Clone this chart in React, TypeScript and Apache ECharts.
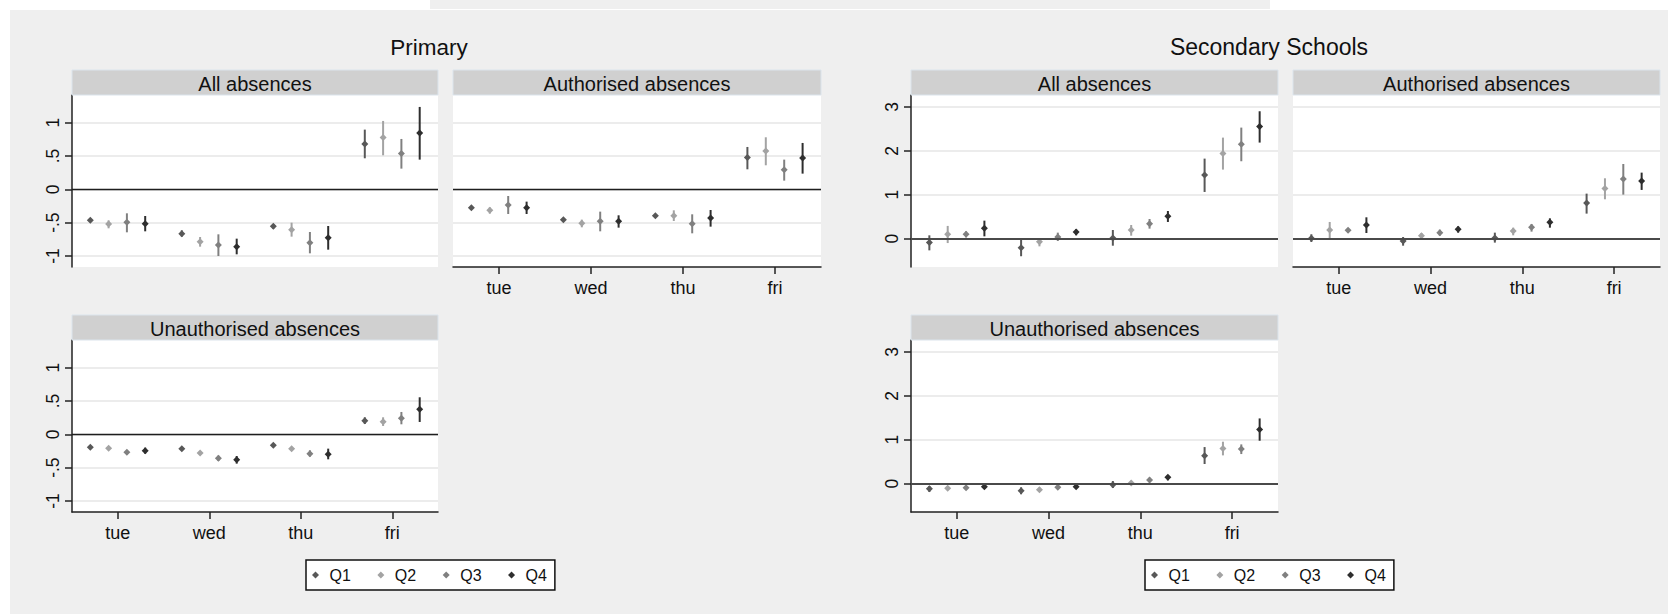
import React, { useEffect, useRef } from 'react';
import * as echarts from 'echarts';

const days = ['tue', 'wed', 'thu', 'fri'];
const quartiles = ['Q1', 'Q2', 'Q3', 'Q4'];
const quartileColors = ['#585858', '#a3a3a3', '#808080', '#2e2e2e'];
const quartileOffset = [-0.3, -0.1, 0.1, 0.3];

const primaryTicks = [-1, -0.5, 0, 0.5, 1];
const primaryTickLabels = ['-1', '-.5', '0', '.5', '1'];
const secondaryTicks = [0, 1, 2, 3];
const secondaryTickLabels = ['0', '1', '2', '3'];

// rows: Q1..Q4, columns: tue, wed, thu, fri
const priAllEst = [
  [-0.465, -0.665, -0.555, 0.68],
  [-0.52, -0.785, -0.605, 0.775],
  [-0.495, -0.835, -0.8, 0.535],
  [-0.515, -0.86, -0.725, 0.845],
];
const priAllLo = [
  [-0.49, -0.71, -0.59, 0.465],
  [-0.585, -0.86, -0.71, 0.51],
  [-0.645, -1.0, -0.96, 0.31],
  [-0.63, -0.975, -0.905, 0.445],
];
const priAllHi = [
  [-0.44, -0.615, -0.52, 0.895],
  [-0.465, -0.715, -0.5, 1.025],
  [-0.36, -0.675, -0.64, 0.755],
  [-0.4, -0.74, -0.55, 1.235],
];

const priAuthEst = [
  [-0.275, -0.455, -0.395, 0.475],
  [-0.315, -0.51, -0.395, 0.575],
  [-0.235, -0.48, -0.515, 0.295],
  [-0.275, -0.48, -0.43, 0.47],
];
const priAuthLo = [
  [-0.295, -0.475, -0.415, 0.3],
  [-0.365, -0.57, -0.475, 0.36],
  [-0.37, -0.63, -0.66, 0.13],
  [-0.37, -0.575, -0.56, 0.235],
];
const priAuthHi = [
  [-0.255, -0.435, -0.375, 0.635],
  [-0.27, -0.455, -0.315, 0.78],
  [-0.1, -0.335, -0.375, 0.445],
  [-0.185, -0.39, -0.31, 0.695],
];

const priUnauthEst = [
  [-0.195, -0.215, -0.165, 0.205],
  [-0.21, -0.28, -0.215, 0.19],
  [-0.27, -0.36, -0.29, 0.24],
  [-0.245, -0.38, -0.3, 0.375],
];
const priUnauthLo = [
  [-0.215, -0.235, -0.185, 0.155],
  [-0.23, -0.3, -0.235, 0.125],
  [-0.29, -0.4, -0.335, 0.15],
  [-0.29, -0.44, -0.375, 0.185],
];
const priUnauthHi = [
  [-0.175, -0.195, -0.145, 0.255],
  [-0.19, -0.26, -0.195, 0.255],
  [-0.25, -0.32, -0.24, 0.335],
  [-0.2, -0.325, -0.215, 0.555],
];

const secAllEst = [
  [-0.09, -0.205, 0.015, 1.45],
  [0.1, -0.068, 0.197, 1.936],
  [0.1, 0.038, 0.342, 2.149],
  [0.235, 0.152, 0.509, 2.551],
];
const secAllLo = [
  [-0.266, -0.4, -0.16, 1.063],
  [-0.1, -0.175, 0.068, 1.572],
  [0.03, -0.053, 0.228, 1.762],
  [0.053, 0.076, 0.38, 2.187],
];
const secAllHi = [
  [0.076, -0.023, 0.197, 1.822],
  [0.29, 0.008, 0.311, 2.3],
  [0.167, 0.137, 0.448, 2.528],
  [0.41, 0.213, 0.63, 2.9],
];

const secAuthEst = [
  [0.008, -0.053, 0.015, 0.812],
  [0.197, 0.068, 0.175, 1.139],
  [0.19, 0.137, 0.258, 1.359],
  [0.311, 0.213, 0.372, 1.314],
];
const secAuthLo = [
  [-0.076, -0.16, -0.09, 0.57],
  [0.008, 0.0, 0.076, 0.896],
  [0.137, 0.068, 0.16, 1.002],
  [0.129, 0.137, 0.25, 1.109],
];
const secAuthHi = [
  [0.1, 0.038, 0.137, 1.025],
  [0.38, 0.129, 0.25, 1.374],
  [0.243, 0.205, 0.334, 1.7],
  [0.486, 0.28, 0.463, 1.503],
];

const secUnauthEst = [
  [-0.114, -0.159, -0.023, 0.636],
  [-0.106, -0.136, 0.015, 0.803],
  [-0.091, -0.083, 0.083, 0.788],
  [-0.068, -0.068, 0.144, 1.235],
];
const secUnauthLo = [
  [-0.19, -0.242, -0.098, 0.447],
  [-0.14, -0.18, -0.03, 0.644],
  [-0.144, -0.12, 0.03, 0.674],
  [-0.12, -0.105, 0.076, 0.977],
];
const secUnauthHi = [
  [-0.053, -0.083, 0.06, 0.833],
  [-0.07, -0.09, 0.068, 0.955],
  [-0.04, -0.045, 0.136, 0.894],
  [-0.015, -0.03, 0.197, 1.485],
];

const FONT = "'Liberation Sans', Arial, sans-serif";

const primaryScale = { min: -1.165, max: 1.414, ticks: primaryTicks, labels: primaryTickLabels, zeroColor: '#1e1e1e', zeroWidth: 1.4 };
const secondaryScale = { min: -0.645, max: 3.27, ticks: secondaryTicks, labels: secondaryTickLabels, zeroColor: '#4a4a4a', zeroWidth: 2 };

const panels = [
  { title: 'All absences', scale: primaryScale, est: priAllEst, lo: priAllLo, hi: priAllHi, left: 72, top: 95, width: 366, showY: true, showX: false },
  { title: 'Authorised absences', scale: primaryScale, est: priAuthEst, lo: priAuthLo, hi: priAuthHi, left: 453, top: 95, width: 368, showY: false, showX: true },
  { title: 'Unauthorised absences', scale: primaryScale, est: priUnauthEst, lo: priUnauthLo, hi: priUnauthHi, left: 72, top: 340, width: 366, showY: true, showX: true },
  { title: 'All absences', scale: secondaryScale, est: secAllEst, lo: secAllLo, hi: secAllHi, left: 911, top: 95, width: 367, showY: true, showX: false },
  { title: 'Authorised absences', scale: secondaryScale, est: secAuthEst, lo: secAuthLo, hi: secAuthHi, left: 1293, top: 95, width: 367, showY: false, showX: true },
  { title: 'Unauthorised absences', scale: secondaryScale, est: secUnauthEst, lo: secUnauthLo, hi: secUnauthHi, left: 911, top: 340, width: 367, showY: true, showX: true },
];

const PANEL_H = 172;
const HEADER_H = 25;

function buildOption() {
  const grid: any[] = [];
  const xAxis: any[] = [];
  const yAxis: any[] = [];
  const series: any[] = [];
  const graphic: any[] = [
    { type: 'rect', z: -100, shape: { x: 10, y: 10, width: 1658, height: 604 }, style: { fill: '#efefef' } },
    { type: 'rect', z: -100, shape: { x: 430, y: 0, width: 840, height: 9 }, style: { fill: '#efefef' } },
    { type: 'text', x: 429, y: 47, style: { text: 'Primary', font: `22.5px ${FONT}`, fill: '#111', textAlign: 'center', textVerticalAlign: 'middle' } },
    { type: 'text', x: 1269, y: 47, style: { text: 'Secondary Schools', font: `23px ${FONT}`, fill: '#111', textAlign: 'center', textVerticalAlign: 'middle' } },
  ];
  const axisColor = '#222';

  panels.forEach((p, i) => {
    grid.push({
      left: p.left, top: p.top, width: p.width, height: PANEL_H,
      show: true, backgroundColor: '#ffffff', borderWidth: 0,
      containLabel: false, outerBoundsMode: 'none',
    });
    graphic.push({
      type: 'rect', z: 10,
      shape: { x: p.left, y: p.top - HEADER_H, width: p.width, height: HEADER_H },
      style: { fill: '#d0d0d0', stroke: '#dbe4ec', lineWidth: 1 },
    });
    graphic.push({
      type: 'text', z: 11, x: p.left + p.width / 2, y: p.top - HEADER_H / 2 + 1,
      style: { text: p.title, font: `20px ${FONT}`, fill: '#111', textAlign: 'center', textVerticalAlign: 'middle' },
    });
    const labelOf = (v: number) => {
      const k = p.scale.ticks.findIndex((t) => Math.abs(t - v) < 1e-9);
      return k >= 0 ? p.scale.labels[k] : '';
    };
    yAxis.push({
      gridIndex: i, type: 'value', min: p.scale.min, max: p.scale.max,
      axisLine: { show: p.showY, onZero: false, lineStyle: { color: axisColor, width: 1.5 } },
      axisTick: { show: p.showY, length: 7, customValues: p.scale.ticks, lineStyle: { color: axisColor, width: 1.5 } },
      axisLabel: {
        show: p.showY, customValues: p.scale.ticks, rotate: 90, margin: 10,
        formatter: labelOf, fontSize: 17.5, color: '#111', fontFamily: FONT,
      },
      splitLine: { show: true, lineStyle: { color: '#e6e6e6', width: 1.5 } },
    });
    xAxis.push({
      gridIndex: i, type: 'value', min: -0.5, max: 3.5, show: p.showX,
      axisLine: { onZero: false, lineStyle: { color: axisColor, width: 1.5 } },
      axisTick: { customValues: [0, 1, 2, 3], length: 7, lineStyle: { color: axisColor, width: 1.5 } },
      axisLabel: {
        customValues: [0, 1, 2, 3], margin: 12, fontSize: 18, color: '#111', fontFamily: FONT,
        formatter: (v: number) => days[Math.round(v)] ?? '',
      },
      splitLine: { show: false },
    });

    quartiles.forEach((q, qi) => {
      const color = quartileColors[qi];
      const ci: any = {
        type: 'custom', name: `${q} CI`, xAxisIndex: i, yAxisIndex: i, z: 2,
        encode: { x: 0, y: [1, 2] },
        data: days.map((_, di) => [di + quartileOffset[qi], p.lo[qi][di], p.hi[qi][di]]),
        renderItem: (params: any, api: any) => {
          const a = api.coord([api.value(0), api.value(1)]);
          const b = api.coord([api.value(0), api.value(2)]);
          return {
            type: 'line',
            shape: { x1: a[0], y1: a[1], x2: b[0], y2: b[1] },
            style: { stroke: color, lineWidth: 2 },
          };
        },
      };
      if (qi === 0) {
        ci.markLine = {
          silent: true, symbol: ['none', 'none'], label: { show: false },
          lineStyle: { color: p.scale.zeroColor, width: p.scale.zeroWidth, type: 'solid' },
          data: [{ yAxis: 0 }],
        };
      }
      series.push(ci);
      series.push({
        type: 'scatter', name: q, xAxisIndex: i, yAxisIndex: i, z: 3,
        symbol: 'diamond', symbolSize: 7,
        itemStyle: { color, opacity: 1 },
        data: days.map((_, di) => [di + quartileOffset[qi], p.est[qi][di]]),
      });
    });
  });

  const legendBase = {
    top: 560, orient: 'horizontal', icon: 'diamond', itemWidth: 7, itemHeight: 7, itemGap: 26.5,
    padding: [7, 8, 7, 6], borderColor: '#111', borderWidth: 1.5, backgroundColor: '#ffffff',
    textStyle: { fontSize: 16, color: '#111', fontFamily: FONT, padding: [0, 0, 0, 5.5] },
    selectedMode: false, data: quartiles,
  };

  return {
    animation: false,
    backgroundColor: '#ffffff',
    grid, xAxis, yAxis, series, graphic,
    legend: [
      { ...legendBase, left: 306 },
      { ...legendBase, left: 1145 },
    ],
  };
}

export default function App() {
  const ref = useRef<HTMLDivElement>(null);
  useEffect(() => {
    if (!ref.current) return;
    const chart = echarts.init(ref.current, null, { renderer: 'svg' });
    chart.setOption(buildOption() as any);
    return () => chart.dispose();
  }, []);
  return <div ref={ref} style={{ position: 'absolute', left: 0, top: 0, width: 1668, height: 614 }} />;
}
